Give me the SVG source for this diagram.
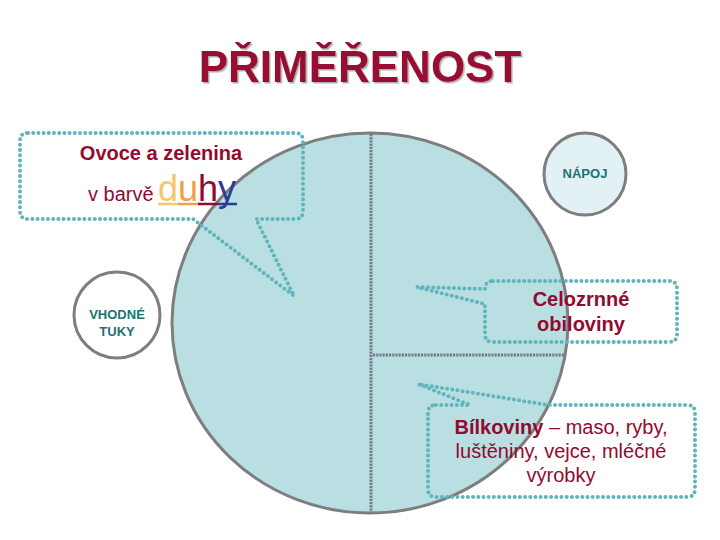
<svg xmlns="http://www.w3.org/2000/svg" width="720" height="540" viewBox="0 0 720 540">
  <defs>
    <filter id="shadow" x="-5%" y="-20%" width="110%" height="140%">
      <feDropShadow dx="1.5" dy="1.5" stdDeviation="0.6" flood-color="#9a9a9a" flood-opacity="0.8"/>
    </filter>
    <style>
      .t { font-family: "Liberation Sans", Arial, sans-serif; }
      .red { fill: #930a2e; }
      .teal { fill: #1b7274; font-weight: bold; font-size: 13px; }
      .callout { fill: none; stroke: #5fb4be; stroke-width: 4; stroke-dasharray: 0 5.2; stroke-linecap: round; stroke-linejoin: round; }
      .divider { fill: none; stroke: #737a82; stroke-width: 3; stroke-dasharray: 2.2 1; }
      .ring { stroke: #7e7e7e; stroke-width: 3; }
    </style>
  </defs>
  <rect width="720" height="540" fill="#ffffff"/>

  <g id="title">
    <text class="t" x="360" y="82" text-anchor="middle" font-size="44" font-weight="bold" fill="#9a0b30" filter="url(#shadow)">PŘIMĚŘENOST</text>
  </g>

  <g id="plate">
    <ellipse class="ring" cx="370" cy="323" rx="198" ry="190" fill="#b9dfe3"/>
  </g>

  <g id="connectors">
    <path class="divider" d="M371,134 V513"/>
    <path class="divider" d="M373,355 H565"/>
  </g>

  <g id="fruit-veg">
    <path class="callout" d="M28,133 H295 Q303,133 303,141 V211 Q303,219 295,219 H256 L294,296 L193,219 H28 Q20,219 20,211 V141 Q20,133 28,133 Z"/>
    <text class="t red" x="161" y="160" text-anchor="middle" font-size="20" font-weight="bold">Ovoce a zelenina</text>
    <text class="t red" x="88" y="201" font-size="20">v barvě</text>
    <text class="t" x="158" y="201" font-size="36"><tspan fill="#f5c66c">d</tspan><tspan fill="#eea04c">u</tspan><tspan fill="#930a2e">h</tspan><tspan fill="#2e3a98">y</tspan></text>
    <path d="M158,204 H178" stroke="#f5c66c" stroke-width="2.5"/>
    <path d="M178,204 H198" stroke="#eea04c" stroke-width="2.5"/>
    <path d="M198,204 H218" stroke="#930a2e" stroke-width="2.5"/>
    <path d="M218,204 H237" stroke="#2e3a98" stroke-width="2.5"/>
  </g>

  <g id="drink">
    <circle class="ring" cx="585" cy="174" r="41" fill="#e2f1f3"/>
    <text class="t teal" x="585" y="178" text-anchor="middle">NÁPOJ</text>
  </g>

  <g id="fats">
    <circle class="ring" cx="117" cy="315" r="43" fill="#ffffff"/>
    <text class="t teal" x="117" y="319" text-anchor="middle">VHODNÉ</text>
    <text class="t teal" x="117" y="336" text-anchor="middle">TUKY</text>
  </g>

  <g id="grains">
    <path class="callout" d="M493,281 H669 Q677,281 677,289 V334 Q677,342 669,342 H493 Q485,342 485,334 V304 L417,287 L485,289 Q485,281 493,281 Z"/>
    <text class="t red" x="581" y="306" text-anchor="middle" font-size="20" font-weight="bold">Celozrnné</text>
    <text class="t red" x="581" y="331" text-anchor="middle" font-size="20" font-weight="bold">obiloviny</text>
  </g>

  <g id="protein">
    <path class="callout" d="M436,405 H470 L418,384 L548,405 H687 Q695,405 695,413 V489 Q695,497 687,497 H436 Q428,497 428,489 V413 Q428,405 436,405 Z"/>
    <text class="t red" x="561" y="434" text-anchor="middle" font-size="20"><tspan font-weight="bold">Bílkoviny</tspan> – maso, ryby,</text>
    <text class="t red" x="561" y="458" text-anchor="middle" font-size="20">luštěniny, vejce, mléčné</text>
    <text class="t red" x="561" y="482" text-anchor="middle" font-size="20">výrobky</text>
  </g>
</svg>
